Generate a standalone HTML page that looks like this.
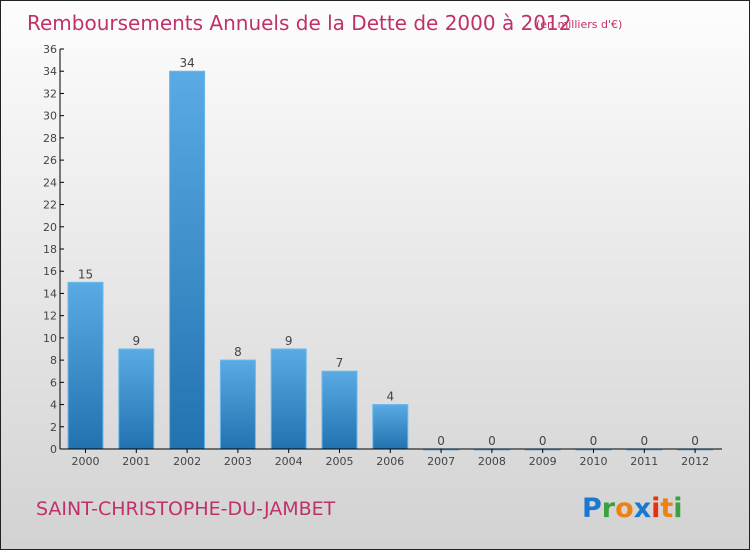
<!DOCTYPE html>
<html><head><meta charset="utf-8"><style>
body{margin:0}
#c{width:750px;height:550px;position:relative;box-sizing:border-box;border:1px solid #222;background:linear-gradient(#fdfdfd,#d2d2d2);font-family:"DejaVu Sans","Liberation Sans",sans-serif;overflow:hidden}
</style></head><body>
<div id="c">
<svg id="s" width="748" height="548"></svg>
</div>
<script>
const years=["2000","2001","2002","2003","2004","2005","2006","2007","2008","2009","2010","2011","2012"];
const values=[15,9,34,8,9,7,4,0,0,0,0,0,0];
const yTicks=[0,2,4,6,8,10,12,14,16,18,20,22,24,26,28,30,32,34,36];
const NS="http://www.w3.org/2000/svg";
const s=document.getElementById('s');
function el(t,a,txt){const e=document.createElementNS(NS,t);for(const k in a)e.setAttribute(k,a[k]);if(txt!==undefined)e.textContent=txt;s.appendChild(e);return e;}
const ox=-1,oy=-1;
const y=v=>449+oy-v*(400/36);
const xc=i=>85.5+ox+i*50.8;
const defs=el('defs',{});
defs.innerHTML='<linearGradient id="g" x1="0" y1="0" x2="0" y2="1"><stop offset="0" stop-color="#5aaae4"/><stop offset="1" stop-color="#2272b0"/></linearGradient>';
let t=el('text',{x:26,y:29,fill:'#c0306a','font-size':'20'},'Remboursements Annuels de la Dette de 2000 à 2012');

t=el('text',{x:535,y:27,fill:'#c0306a','font-size':'11'},'(en milliers d\'€)');

values.forEach((v,i)=>{
 const b=el('rect',{x:xc(i)-17.5,y:y(v),width:35,height:Math.max(y(0)-y(v),1),fill:'url(#g)',stroke:'#6ab8ee','stroke-width':1});
 
 const l=el('text',{x:xc(i),y:y(v)-4,'text-anchor':'middle','font-size':'12',fill:'#444'},String(v));
 
 const xl=el('text',{x:xc(i),y:y(0)+16,'text-anchor':'middle','font-size':'11',fill:'#444'},years[i]);
 
 el('line',{x1:xc(i),x2:xc(i),y1:y(0),y2:y(0)+4,stroke:'#000'});
});
yTicks.forEach(v=>{
 el('line',{x1:60+ox,x2:64+ox,y1:y(v),y2:y(v),stroke:'#000'});
 const l=el('text',{x:57+ox,y:y(v)+4,'text-anchor':'end','font-size':'11',fill:'#444'},String(v));
 
});
let a=el('line',{x1:60+ox,x2:60+ox,y1:y(36),y2:y(0),stroke:'#000'});

a=el('line',{x1:60+ox,x2:722+ox,y1:y(0),y2:y(0),stroke:'#000'});

t=el('text',{x:35,y:514,fill:'#c0306a','font-size':'19'},'SAINT-CHRISTOPHE-DU-JAMBET');

t=el('text',{x:581,y:516,'font-size':'27','font-weight':'bold'});
t.innerHTML='<tspan fill="#1a78d0">P</tspan><tspan fill="#3aa040">r</tspan><tspan fill="#f08010">o</tspan><tspan fill="#1a78d0">x</tspan><tspan fill="#e83010">i</tspan><tspan fill="#f08010">t</tspan><tspan fill="#3aa040">i</tspan>';

</script>
</body></html>
